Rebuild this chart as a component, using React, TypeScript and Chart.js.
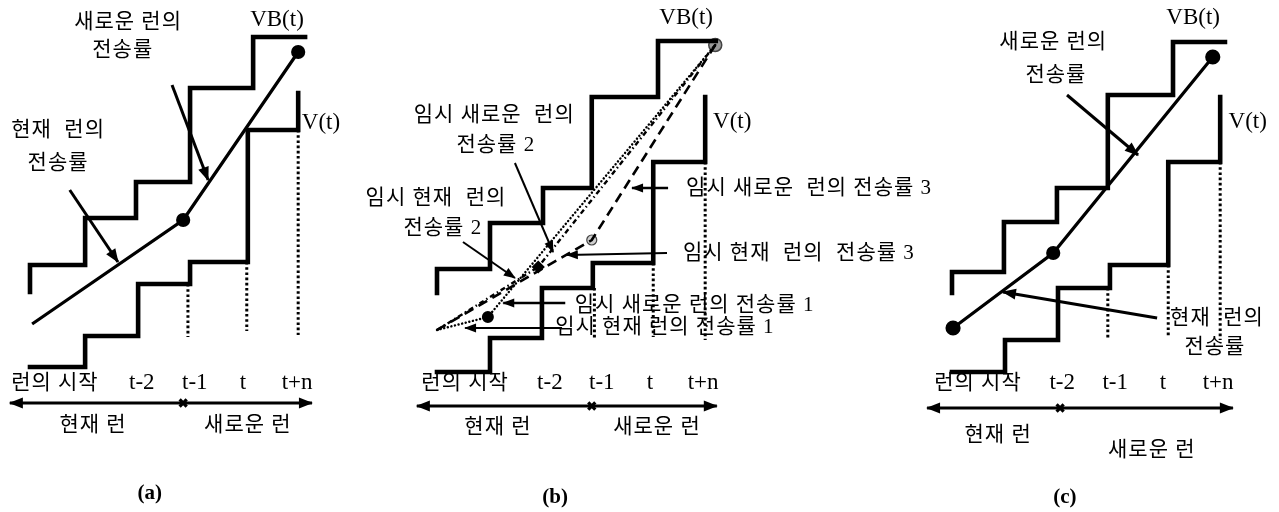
import React, { useEffect, useRef } from "react";
import { Chart, registerables } from "chart.js";
Chart.register(...registerables);

// ---------- data (x in time steps from run start, y in transfer-rate units) ----------
// Panel (a)
const aVBx = [0, 1.04, 2.0, 3.02, 4.21, 5.19];
const aVBy = [11.3, 14.0, 18.7, 22.3, 31.7, 36.8];
const aVx = [0, 1.04, 2.04, 3.02, 4.11, 5.06];
const aVy = [3.8, 6.9, 12.1, 14.3, 27.5, 31.2];
const aRateX = [0.04, 2.89, 5.06];
const aRateY = [8.1, 18.5, 35.3];
const aDotX = [2.98, 4.09, 5.06];
const aDotTop = [12.1, 14.3, 27.5];
const aDotBottom = [6.8, 7.4, 7.0];

// Panel (b)
const bVBx = [0, 1.0, 2.0, 2.92, 4.17, 5.26];
const bVBy = [11.2, 13.6, 18.2, 21.7, 30.8, 36.4];
const bVx = [0, 1.0, 1.98, 2.94, 4.08, 5.06];
const bVy = [3.3, 6.7, 11.7, 14.2, 24.3, 30.8];
const bDotX = [2.97, 4.08, 5.06];
const bDotTop = [11.7, 14.2, 24.3];
const bDotBottom = [6.5, 6.8, 6.5];
const bStart = [0, 7.5];
const bEnd = [5.25, 36.0];
const bTemp1 = [0.96, 8.8];
const bTemp2 = [1.91, 13.8];
const bTemp3 = [2.92, 16.5];

// Panel (c)
const cVBx = [0, 0.98, 1.98, 2.94, 4.17, 5.15];
const cVBy = [11.2, 13.3, 18.3, 21.7, 31.0, 36.3];
const cVx = [0, 1.0, 2.0, 2.98, 4.08, 5.06];
const cVy = [3.3, 6.5, 11.7, 14.0, 24.3, 30.8];
const cRateX = [0.02, 1.91, 4.92];
const cRateY = [7.7, 15.2, 34.8];
const cDotX = [2.94, 4.08, 5.06];
const cDotTop = [11.7, 14.0, 24.3];
const cDotBottom = [6.5, 6.8, 6.5];

// time axis labels
const tickLabels = ["t-2", "t-1", "t", "t+n"];
const aTickX = [2.11, 3.11, 4.02, 5.04];
const bTickX = [2.13, 3.11, 4.02, 5.02];
const cTickX = [2.08, 3.08, 3.98, 5.02];

// ---------- layout (where each panel's time axis sits on the page) ----------
const panelOrigin: Record<string, number> = { a: 30, b: 437, c: 952 };
const stepPx = 53;
const W = 1279;
const H = 512;
const yMin = -10.7;
const yMax = 40.5;

const SERIF = "'Liberation Serif', 'Noto Sans CJK KR', serif";

type Lbl = { p: string; x: number; y: number; t: string; size?: number; align?: CanvasTextAlign; bold?: boolean };
type Arrow = { p: string; x1: number; y1: number; x2: number; y2: number; w?: number; both?: boolean };

const labels: Lbl[] = [
  // (a)
  { p: "a", x: 1.85, y: 38.3, t: "새로운 런의" },
  { p: "a", x: 1.75, y: 35.5, t: "전송률" },
  { p: "a", x: 4.66, y: 38.5, t: "VB(t)", size: 23 },
  { p: "a", x: 5.49, y: 28.2, t: "V(t)", size: 23 },
  { p: "a", x: 0.53, y: 27.5, t: "현재  런의" },
  { p: "a", x: 0.53, y: 24.2, t: "전송률" },
  { p: "a", x: 0.47, y: 2.2, t: "런의 시작" },
  { p: "a", x: 1.19, y: -2.0, t: "현재 런" },
  { p: "a", x: 4.11, y: -2.0, t: "새로운 런" },
  { p: "a", x: 2.26, y: -8.9, t: "(a)", size: 21, bold: true },
  // (b)
  { p: "b", x: 4.7, y: 38.7, t: "VB(t)", size: 23 },
  { p: "b", x: 5.57, y: 28.3, t: "V(t)", size: 23 },
  { p: "b", x: 1.08, y: 29.0, t: "임시 새로운  런의" },
  { p: "b", x: 1.11, y: 26.0, t: "전송률 2" },
  { p: "b", x: -0.02, y: 20.7, t: "임시 현재  런의" },
  { p: "b", x: 0.11, y: 17.7, t: "전송률 2" },
  { p: "b", x: 4.7, y: 21.7, t: "임시 새로운  런의 전송률 3", align: "left" },
  { p: "b", x: 4.64, y: 15.2, t: "임시 현재  런의  전송률 3", align: "left" },
  { p: "b", x: 2.6, y: 10.0, t: "임시 새로운 런의 전송률 1", align: "left" },
  { p: "b", x: 2.23, y: 7.8, t: "임시 현재 런의 전송률 1", align: "left" },
  { p: "b", x: 0.53, y: 2.2, t: "런의 시작" },
  { p: "b", x: 1.15, y: -2.2, t: "현재 런" },
  { p: "b", x: 4.15, y: -2.2, t: "새로운 런" },
  { p: "b", x: 2.23, y: -9.3, t: "(b)", size: 21, bold: true },
  // (c)
  { p: "c", x: 1.91, y: 36.3, t: "새로운 런의" },
  { p: "c", x: 1.96, y: 33.0, t: "전송률" },
  { p: "c", x: 4.55, y: 38.7, t: "VB(t)", size: 23 },
  { p: "c", x: 5.58, y: 28.3, t: "V(t)", size: 23 },
  { p: "c", x: 5.0, y: 8.7, t: "현재  런의" },
  { p: "c", x: 4.96, y: 5.8, t: "전송률" },
  { p: "c", x: 0.49, y: 2.2, t: "런의 시작" },
  { p: "c", x: 0.87, y: -3.0, t: "현재 런" },
  { p: "c", x: 3.77, y: -4.5, t: "새로운 런" },
  { p: "c", x: 2.13, y: -9.3, t: "(c)", size: 21, bold: true },
];

const arrows: Arrow[] = [
  // (a)
  { p: "a", x1: 0.75, y1: 21.5, x2: 1.66, y2: 14.3, w: 3 },
  { p: "a", x1: 2.68, y1: 32.0, x2: 3.36, y2: 22.5, w: 3 },
  { p: "a", x1: -0.38, y1: 0.2, x2: 5.32, y2: 0.2, w: 3.2, both: true },
  // (b)
  { p: "b", x1: 4.36, y1: 21.7, x2: 3.68, y2: 21.7, w: 2.5 },
  { p: "b", x1: 4.34, y1: 15.2, x2: 2.45, y2: 15.0, w: 2.2 },
  { p: "b", x1: 2.42, y1: 10.2, x2: 1.25, y2: 10.2, w: 2.5 },
  { p: "b", x1: 2.36, y1: 7.7, x2: 0.53, y2: 7.7, w: 2.2 },
  { p: "b", x1: 1.47, y1: 24.2, x2: 2.19, y2: 15.3, w: 2 },
  { p: "b", x1: 0.49, y1: 16.3, x2: 1.47, y2: 12.7, w: 2 },
  { p: "b", x1: -0.38, y1: -0.1, x2: 5.28, y2: -0.1, w: 3.2, both: true },
  // (c)
  { p: "c", x1: 2.17, y1: 31.0, x2: 3.51, y2: 25.0, w: 3 },
  { p: "c", x1: 3.87, y1: 8.7, x2: 0.96, y2: 11.3, w: 3 },
  { p: "c", x1: -0.47, y1: -0.3, x2: 5.3, y2: -0.3, w: 3.2, both: true },
];

const axisMarks = [
  { p: "a", x: 2.89, y: 0.2 },
  { p: "b", x: 2.92, y: -0.1 },
  { p: "c", x: 2.04, y: -0.3 },
];

// ---------- dataset builders ----------
const pts = (xs: number[], ys: number[]) => xs.map((x, i) => ({ x, y: ys[i] }));

function stepDs(p: string, xs: number[], ys: number[], mode: "before" | "after") {
  return {
    data: pts(xs, ys),
    xAxisID: "x" + p,
    stepped: mode,
    borderColor: "#000",
    borderWidth: 4.6,
    borderCapStyle: "square",
    borderJoinStyle: "miter",
    pointRadius: 0,
    fill: false,
    tension: 0,
  };
}

function dottedDs(p: string, x: number, top: number, bottom: number) {
  return {
    data: [{ x, y: top }, { x, y: bottom }],
    xAxisID: "x" + p,
    borderColor: "#000",
    borderWidth: 3,
    borderDash: [2.6, 2.6],
    borderCapStyle: "butt",
    pointRadius: 0,
    fill: false,
  };
}

function lineDs(p: string, data: { x: number; y: number }[], extra: any = {}) {
  return {
    data,
    xAxisID: "x" + p,
    borderColor: "#000",
    borderWidth: 3,
    pointRadius: 0,
    fill: false,
    tension: 0,
    ...extra,
  };
}

function buildDatasets() {
  const ds: any[] = [];
  ds.push(stepDs("a", aVBx, aVBy, "after"));
  ds.push(stepDs("a", aVx, aVy, "before"));
  ds.push(stepDs("b", bVBx, bVBy, "after"));
  ds.push(stepDs("b", bVx, bVy, "before"));
  ds.push(stepDs("c", cVBx, cVBy, "after"));
  ds.push(stepDs("c", cVx, cVy, "before"));
  aDotX.forEach((x, i) => ds.push(dottedDs("a", x, aDotTop[i], aDotBottom[i])));
  bDotX.forEach((x, i) => ds.push(dottedDs("b", x, bDotTop[i], bDotBottom[i])));
  cDotX.forEach((x, i) => ds.push(dottedDs("c", x, cDotTop[i], cDotBottom[i])));

  // (a) transfer-rate line
  ds.push(
    lineDs("a", pts(aRateX, aRateY), {
      borderWidth: 3.2,
      pointRadius: [0, 5.5, 5.5],
      pointBackgroundColor: "#000",
      pointBorderColor: "#000",
    })
  );
  // (c) transfer-rate line
  ds.push(
    lineDs("c", pts(cRateX, cRateY), {
      borderWidth: 3.2,
      pointRadius: [6, 5.5, 6],
      pointBackgroundColor: "#000",
      pointBorderColor: "#000",
    })
  );
  // (b) temporary rates
  const P = (a: number[]) => ({ x: a[0], y: a[1] });
  ds.push(
    lineDs("b", [P(bStart), P(bTemp3), P(bEnd)], {
      borderWidth: 2.6,
      borderDash: [10, 6],
    })
  );
  ds.push(
    lineDs("b", [P(bStart), P(bTemp2), P(bEnd)], {
      borderWidth: 2.4,
      borderDash: [5, 3, 1.5, 3],
    })
  );
  ds.push(
    lineDs("b", [P(bStart), P(bTemp1), P(bEnd)], {
      borderWidth: 2.4,
      borderDash: [0.1, 3.6],
      borderCapStyle: "round",
    })
  );
  // (b) markers
  ds.push(
    lineDs("b", [P(bTemp1)], { showLine: false, pointRadius: 4.5, pointBackgroundColor: "#000", pointBorderColor: "#000" })
  );
  ds.push(
    lineDs("b", [P(bTemp2)], {
      showLine: false,
      pointRadius: 4.5,
      pointStyle: "rectRot",
      pointBackgroundColor: "#000",
      pointBorderColor: "#000",
    })
  );
  ds.push(
    lineDs("b", [P(bTemp3)], {
      showLine: false,
      pointRadius: 5,
      pointBackgroundColor: "#cfcfcf",
      pointBorderColor: "#444",
      pointBorderWidth: 1.2,
    })
  );
  ds.push(
    lineDs("b", [P(bEnd)], {
      showLine: false,
      pointRadius: 6.5,
      pointBackgroundColor: "#9a9a9a",
      pointBorderColor: "#444",
      pointBorderWidth: 1.5,
    })
  );

  // arrows
  arrows.forEach((a) =>
    ds.push(
      lineDs(a.p, [{ x: a.x1, y: a.y1 }, { x: a.x2, y: a.y2 }], {
        borderWidth: a.w ?? 3,
        arrow: a.both ? "both" : "end",
      })
    )
  );
  // run boundary marks on the time axis
  axisMarks.forEach((m) =>
    ds.push(
      lineDs(m.p, [{ x: m.x, y: m.y }], {
        showLine: false,
        pointRadius: 5,
        pointStyle: "crossRot",
        pointBorderWidth: 3.2,
        pointBorderColor: "#000",
      })
    )
  );
  return ds;
}

function drawHead(ctx: CanvasRenderingContext2D, x1: number, y1: number, x2: number, y2: number, len: number, wid: number) {
  const a = Math.atan2(y2 - y1, x2 - x1);
  const c = Math.cos(a);
  const s = Math.sin(a);
  ctx.beginPath();
  ctx.moveTo(x2 + c * 1, y2 + s * 1);
  ctx.lineTo(x2 - len * c + (wid / 2) * s, y2 - len * s - (wid / 2) * c);
  ctx.lineTo(x2 - len * c - (wid / 2) * s, y2 - len * s + (wid / 2) * c);
  ctx.closePath();
  ctx.fill();
}

const diagramPlugin = {
  id: "diagram",
  beforeDatasetsDraw(chart: any) {
    const ctx: CanvasRenderingContext2D = chart.ctx;
    const ys = chart.scales.y;
    ctx.save();
    ctx.fillStyle = "#000";
    ctx.textBaseline = "middle";
    labels.forEach((l) => {
      const xs = chart.scales["x" + l.p];
      const size = l.size ?? 21;
      ctx.font = `${l.bold ? "bold " : ""}${size}px ${SERIF}`;
      (ctx as any).letterSpacing = /[가-힣]/.test(l.t) ? "1px" : "0px";
      ctx.textAlign = l.align ?? "center";
      ctx.fillText(l.t, xs.getPixelForValue(l.x), ys.getPixelForValue(l.y));
    });
    tickLabels.forEach((t, i) => {
      ctx.font = `23px ${SERIF}`;
      (ctx as any).letterSpacing = "0px";
      ctx.textAlign = "center";
      const y = ys.getPixelForValue(2.2);
      ctx.fillText(t, chart.scales.xa.getPixelForValue(aTickX[i]), y);
      ctx.fillText(t, chart.scales.xb.getPixelForValue(bTickX[i]), y);
      ctx.fillText(t, chart.scales.xc.getPixelForValue(cTickX[i]), y);
    });
    ctx.restore();
  },
  afterDatasetsDraw(chart: any) {
    const ctx: CanvasRenderingContext2D = chart.ctx;
    ctx.save();
    ctx.fillStyle = "#000";
    chart.data.datasets.forEach((d: any, i: number) => {
      if (!d.arrow) return;
      const meta = chart.getDatasetMeta(i);
      const p0 = meta.data[0];
      const p1 = meta.data[1];
      const len = d.borderWidth >= 3 ? 13 : 11;
      const wid = d.borderWidth >= 3 ? 11 : 9;
      drawHead(ctx, p0.x, p0.y, p1.x, p1.y, len, wid);
      if (d.arrow === "both") drawHead(ctx, p1.x, p1.y, p0.x, p0.y, len, wid);
    });
    ctx.restore();
  },
};

function xScale(p: string) {
  const o = panelOrigin[p];
  return { type: "linear", display: false, min: -o / stepPx, max: (W - o) / stepPx };
}

export default function App() {
  const ref = useRef<HTMLCanvasElement | null>(null);
  useEffect(() => {
    if (!ref.current) return;
    const chart = new Chart(ref.current, {
      type: "line",
      data: { datasets: buildDatasets() },
      options: {
        responsive: false,
        animation: false,
        events: [],
        layout: { padding: 0, autoPadding: false },
        plugins: { legend: { display: false }, tooltip: { enabled: false } },
        elements: { line: { borderJoinStyle: "miter" } },
        datasets: { line: { clip: false } },
        scales: {
          xa: xScale("a"),
          xb: xScale("b"),
          xc: xScale("c"),
          y: { type: "linear", display: false, min: yMin, max: yMax },
        },
      } as any,
      plugins: [diagramPlugin],
    });
    return () => chart.destroy();
  }, []);
  return (
    <div style={{ position: "fixed", left: 0, top: 0, width: W, height: H, background: "#fff" }}>
      <canvas ref={ref} width={W} height={H} style={{ width: W, height: H, display: "block" }} />
    </div>
  );
}
